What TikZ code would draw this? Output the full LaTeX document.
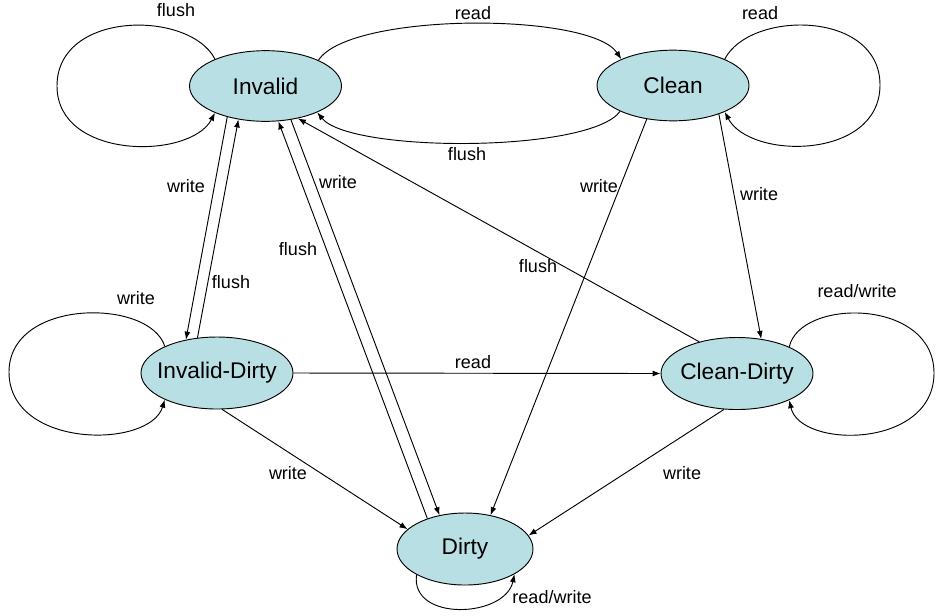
\documentclass[tikz,border=0pt]{standalone}
\usepackage{fontspec}
\setmainfont{Liberation Sans}
\usetikzlibrary{shapes.geometric,arrows.meta}
\definecolor{statefill}{RGB}{184,223,227}
\begin{document}
\begin{tikzpicture}[x=0.75pt,y=-0.75pt,line width=0.7pt,
    state/.style={ellipse,draw,fill=statefill,inner xsep=-6pt,inner ysep=0pt,
      minimum width=114pt,minimum height=53pt,font=\fontsize{17}{20}\selectfont},
    lbl/.style={font=\fontsize{13.5}{16}\selectfont,inner sep=1pt},
    >={Latex[length=6pt,width=4.5pt]}]
  \useasboundingbox (0,0) rectangle (937,615);

  \node[state] (inv) at (265.5,86) {Invalid};
  \node[state] (cln) at (673,85.5) {Clean};
  \node[state,minimum height=54pt] (idt) at (217,373) {Invalid-Dirty};
  \node[state,minimum height=54pt] (cdt) at (737,373.5) {Clean-Dirty};
  \node[state,minimum width=102pt,minimum height=54pt] (dty) at (465,549) {Dirty};

  % self loops
  \draw[->] (inv.152) .. controls (190,10) and (57,10) .. (57,86)
    .. controls (57,160) and (190,160) .. (inv.208);
  \draw[->] (cln.27) .. controls (750,10) and (880,10) .. (880,85)
    .. controls (880,160) and (750,160) .. (cln.-27);
  \draw[->] (idt.153) .. controls (150,298) and (9,298) .. (9,372)
    .. controls (9,449) and (150,449) .. (idt.207);
  \draw[->] (cdt.27) .. controls (800,298) and (934,298) .. (934,373)
    .. controls (934,449) and (800,449) .. (cdt.-27);
  \draw[->] (dty.208) .. controls (410,622) and (505,618) .. (dty.-27);

  % top pair
  \draw[->] (inv.26) .. controls (350,12) and (590,12) .. (cln.153);
  \draw[->] (cln.206) .. controls (590,153) and (350,153) .. (inv.-27);

  % straight edges
  \draw[->] (inv.219) -- (idt.133);
  \draw[->] (idt.119) -- (inv.231);
  \draw[->] (dty.141) -- (inv.-70);
  \draw[->] (inv.-53) -- (dty.127);
  \draw[->] (cdt.140) -- (inv.-45);
  \draw[->] (cln.232) -- (dty.53);
  \draw[->] (cln.-32) -- (cdt.55);
  \draw[->] (idt.east) -- (cdt.west);
  \draw[->] (idt.-82) -- (dty.161);
  \draw[->] (cdt.250) -- (dty.12);

  % labels
  \node[lbl] (lflushinv) at (176,10) {flush};
  \node[lbl] (lreadcln) at (760,13) {read};
  \node[lbl] (lreadtop) at (473,13) {read};
  \node[lbl] (lflushtop) at (467,154) {flush};
  \node[lbl] (lwriteidt) at (186,186) {write};
  \node[lbl] (lflushidt) at (231,282) {flush};
  \node[lbl] (lflushdty) at (298,249) {flush};
  \node[lbl] (lwritedty) at (338,182) {write};
  \node[lbl] (lwritecln) at (599,186) {write};
  \node[lbl] (lwritecdt) at (759,194) {write};
  \node[lbl] (lflushcdt) at (538,266) {flush};
  \node[lbl] (lwriteloop) at (136,298) {write};
  \node[lbl] (lrwcdt) at (857,291) {read/write};
  \node[lbl] (lreadmid) at (473,362) {read};
  \node[lbl] (lwriteleft) at (288,473) {write};
  \node[lbl] (lwriteright) at (682,473) {write};
  \node[lbl] (lrwdty) at (552,597) {read/write};
\end{tikzpicture}
\end{document}
